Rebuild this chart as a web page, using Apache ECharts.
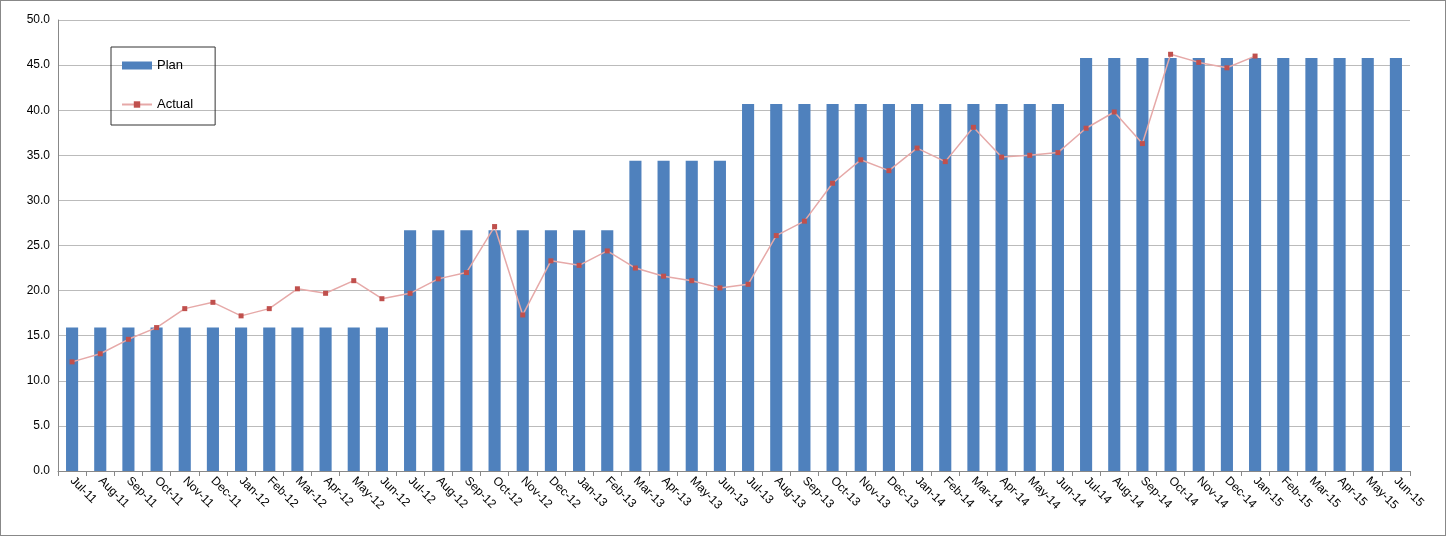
<!DOCTYPE html>
<html><head><meta charset="utf-8">
<script src="https://cdn.jsdelivr.net/npm/echarts@6/dist/echarts.min.js"></script>
<style>html,body{margin:0;padding:0;background:#fff}#c{width:1446px;height:536px;box-sizing:border-box;border:1px solid #888}</style>
</head><body><div id="c"></div>
<script>
const categories = ["Jul-11","Aug-11","Sep-11","Oct-11","Nov-11","Dec-11","Jan-12","Feb-12","Mar-12","Apr-12","May-12","Jun-12","Jul-12","Aug-12","Sep-12","Oct-12","Nov-12","Dec-12","Jan-13","Feb-13","Mar-13","Apr-13","May-13","Jun-13","Jul-13","Aug-13","Sep-13","Oct-13","Nov-13","Dec-13","Jan-14","Feb-14","Mar-14","Apr-14","May-14","Jun-14","Jul-14","Aug-14","Sep-14","Oct-14","Nov-14","Dec-14","Jan-15","Feb-15","Mar-15","Apr-15","May-15","Jun-15"];
const plan = [15.9,15.9,15.9,15.9,15.9,15.9,15.9,15.9,15.9,15.9,15.9,15.9,26.7,26.7,26.7,26.7,26.7,26.7,26.7,26.7,34.4,34.4,34.4,34.4,40.7,40.7,40.7,40.7,40.7,40.7,40.7,40.7,40.7,40.7,40.7,40.7,45.8,45.8,45.8,45.8,45.8,45.8,45.8,45.8,45.8,45.8,45.8,45.8];
const actual = [12.1,13.0,14.6,15.9,18.0,18.7,17.2,18.0,20.2,19.7,21.1,19.1,19.7,21.3,22.0,27.1,17.3,23.3,22.8,24.4,22.5,21.6,21.1,20.3,20.7,26.1,27.7,31.9,34.5,33.3,35.8,34.3,38.1,34.8,35.0,35.3,38.0,39.8,36.3,46.2,45.3,44.7,46.0,null,null,null,null,null];
const ch = echarts.init(document.getElementById('c'));
ch.setOption({
  animation:false,
  textStyle:{fontFamily:'Liberation Sans, Arial'},
  grid:{left:57,right:35,top:19,bottom:64},
  legend:{orient:'vertical',left:110,top:46,padding:[12,22,14,10],itemGap:26,borderColor:'#333',borderWidth:1,
    textStyle:{fontSize:13,color:'#000'},
    data:[{name:'Plan',icon:'rect'},{name:'Actual'}],itemWidth:30,itemHeight:8},
  xAxis:{type:'category',data:categories,
    axisLine:{lineStyle:{color:'#888'}},axisTick:{show:true,lineStyle:{color:'#888'}},
    axisLabel:{rotate:-45,interval:0,color:'#000',fontSize:12,align:'left',margin:8}},
  yAxis:{type:'value',min:0,max:50,interval:5,
    axisLabel:{formatter:v=>v.toFixed(1),color:'#000',fontSize:12},
    axisLine:{show:true,lineStyle:{color:'#888'}},
    splitLine:{lineStyle:{color:'#bbb'}}},
  series:[
    {name:'Plan',type:'bar',data:plan,barWidth:'43%',itemStyle:{color:'#4f81bd'}},
    {name:'Actual',type:'line',data:actual,symbol:'rect',symbolSize:5,
      lineStyle:{color:'#e6a9a8',width:1.5},itemStyle:{color:'#c0504d'}}
  ]
});
</script></body></html>
